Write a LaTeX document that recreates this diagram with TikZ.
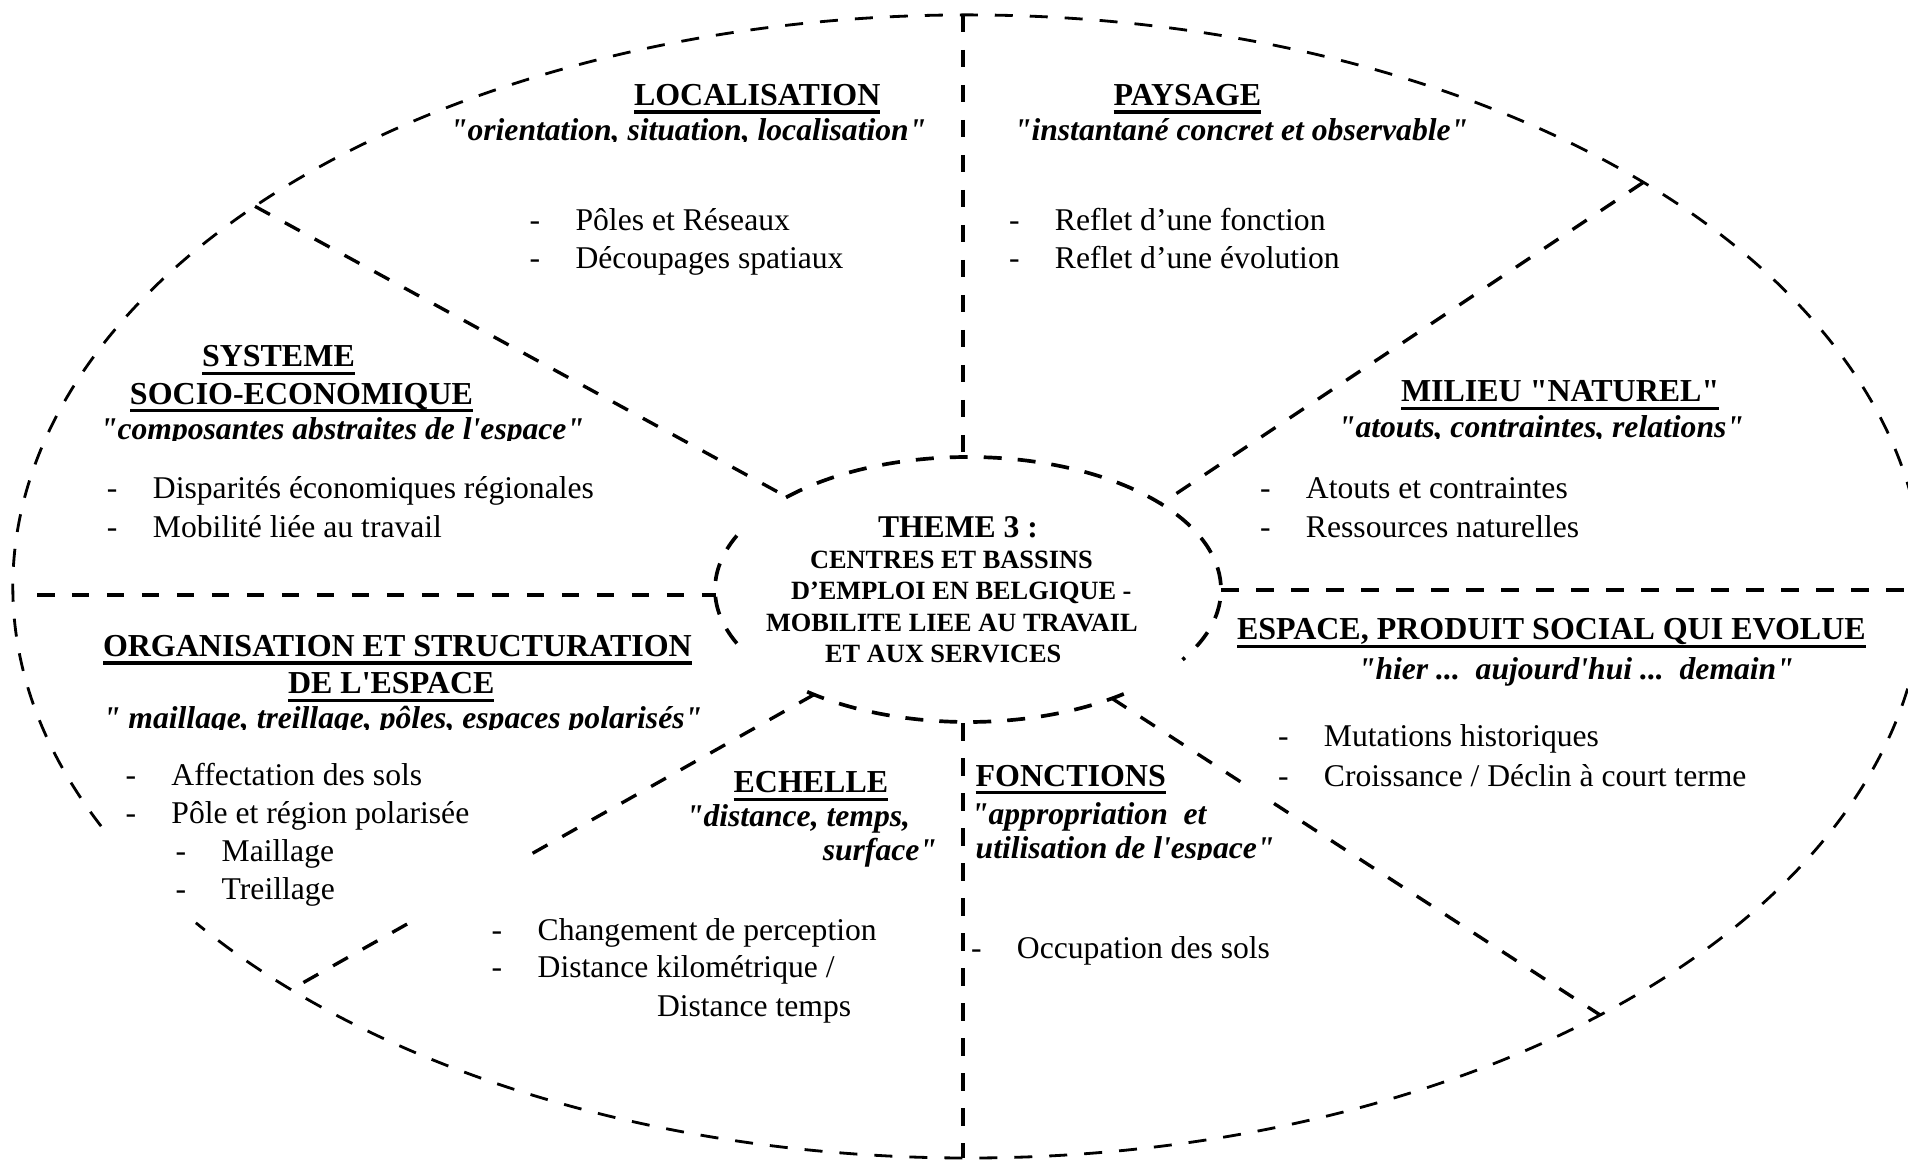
\documentclass[tikz,border=0pt]{standalone}
\usepackage{fontspec}
\newfontfamily\tnr{Liberation Serif}
\usetikzlibrary{calc}

% one unit = 0.1 mm, y axis pointing down
\tikzset{
  x=0.1mm, y=-0.1mm,
  rim/.style={line width=0.8pt, dash pattern=on 1.8mm off 1.7mm},
  hub/.style={line width=1.05pt, dash pattern=on 1.8mm off 1.6mm},
  spoke/.style={line width=1.25pt, dash pattern=on 1.75mm off 1.75mm},
  ray/.style={line width=0.95pt, dash pattern=on 1.7mm off 1.7mm},
  txt/.style={inner sep=0pt, outer sep=0pt, anchor=base west, font=\tnr\fontsize{9}{11}\selectfont},
  head/.style={txt, font=\tnr\bfseries\fontsize{9.1}{11}\selectfont},
  quote/.style={txt, font=\tnr\bfseries\itshape\fontsize{9}{11}\selectfont},
  core/.style={txt, font=\tnr\bfseries\fontsize{7.5}{9}\selectfont},
  coretitle/.style={txt, font=\tnr\bfseries\fontsize{9}{11}\selectfont},
  uline/.style={line width=0.9pt},
}

% underlined bold heading: name, x, baseline y, text
\newcommand\headtext[4]{%
  \node[head] (#1) at (#2,#3) {#4};
  \draw[uline] ([yshift=-0.65mm]#1.base west) -- ([yshift=-0.65mm]#1.base east);}
% list entry with leading dash: name, x of text, baseline y, text
\newcommand\listentry[4]{%
  \node[txt] (#1) at (#2-46,#3) {\makebox[4.6mm][l]{-}#4};}
% italic subtitle cut just below its baseline: name, x, baseline y, text
\newcommand\cutquote[4]{%
  \begin{scope}
    \clip (#2-10,#3-45) rectangle (#2+800,#3+1.2);
    \node[quote] (#1) at (#2,#3) {#4};
  \end{scope}}

\begin{document}
\begin{tikzpicture}
\clip (0,0) rectangle (1908,1165);
\fill[white] (0,0) rectangle (1908,1165);

% ---------- ellipses ----------
\coordinate (O) at (968,586.5);   % outer centre
\coordinate (I) at (968,589.5);   % inner centre

\draw[rim] ($(O)+(155.2:955 and 571.5)$)
  arc[start angle=155.2, end angle=503.95, x radius=955, y radius=571.5];

\draw[hub] ($(I)+(156:253 and 132.5)$)
  arc[start angle=156, end angle=204, x radius=253, y radius=132.5];
\draw[hub] ($(I)+(224:253 and 132.5)$)
  arc[start angle=224, end angle=392, x radius=253, y radius=132.5];
\draw[hub] ($(I)+(52:253 and 132.5)$)
  arc[start angle=52, end angle=131.6, x radius=253, y radius=132.5];

% ---------- spokes ----------
\coordinate (topO) at (963,15);
\coordinate (topI) at (963,457);
\coordinate (botI) at (963,723);
\coordinate (botO) at (963,1158);
\coordinate (leftO) at (37,595);
\coordinate (leftI) at (716,595);
\coordinate (rightI) at (1221,590);
\coordinate (rightO) at (1908,590);

\draw[spoke] (topO) -- (topI);
\draw[spoke] (botI) -- (botO);
\draw[spoke] (leftO) -- (leftI);
\draw[spoke] (rightI) -- (rightO);

\coordinate (ulO) at ($(O)+(221.7:955 and 571.5)$);
\coordinate (ulI) at ($(I)+(224.3:253 and 132.5)$);
\coordinate (urO) at ($(O)+(315:955 and 571.5)$);
\coordinate (urI) at ($(I)+(319.7:253 and 132.5)$);
\coordinate (llO) at ($(O)+(135.15:955 and 571.5)$);
\coordinate (llI) at ($(I)+(127.5:253 and 132.5)$);
\coordinate (lrO) at ($(O)+(48.56:955 and 571.5)$);
\coordinate (lrI) at ($(I)+(55.3:253 and 132.5)$);

\draw[ray] (ulO) -- (ulI);
\draw[ray] (urO) -- (urI);
\draw[ray] (llI) -- ($(llI)!0.562!(llO)$);
\draw[ray] ($(llI)!0.778!(llO)$) -- (llO);
\draw[ray] (lrI) -- ($(lrI)!0.268!(lrO)$);
\draw[ray] ($(lrI)!0.332!(lrO)$) -- (lrO);

% ---------- centre ----------
\node[coretitle] (t0) at (878,537) {THEME 3 :};
\node[core] (t1) at (810,568) {CENTRES ET BASSINS};
\node[core] (t2) at (791,599) {D’EMPLOI EN BELGIQUE -};
\node[core] (t3) at (766,631) {MOBILITE LIEE AU TRAVAIL};
\node[core] (t4) at (825,662) {ET AUX SERVICES};

% ---------- localisation ----------
\headtext{loc}{634}{105.5}{LOCALISATION}
\cutquote{locq}{450}{140}{"orientation, situation, localisation"}
\listentry{loc1}{575.6}{230.4}{Pôles et Réseaux}
\listentry{loc2}{575.6}{268.5}{Découpages spatiaux}

% ---------- paysage ----------
\headtext{pay}{1113.7}{105.5}{PAYSAGE}
\cutquote{payq}{1014}{140}{"instantané concret et observable"}
\listentry{pay1}{1055}{230.4}{Reflet d’une fonction}
\listentry{pay2}{1055}{268.5}{Reflet d’une évolution}

% ---------- systeme socio-economique ----------
\headtext{sys}{202}{366.7}{SYSTEME}
\headtext{sysb}{130}{404.4}{SOCIO-ECONOMIQUE}
\cutquote{sysq}{100}{439}{"composantes abstraites de l'espace"}
\listentry{sys1}{153}{498}{Disparités économiques régionales}
\listentry{sys2}{153}{537}{Mobilité liée au travail}

% ---------- milieu naturel ----------
\headtext{mil}{1401}{401.8}{MILIEU "NATUREL"}
\cutquote{milq}{1338}{437}{"atouts, contraintes, relations"}
\listentry{mil1}{1306}{498}{Atouts et contraintes}
\listentry{mil2}{1306}{537}{Ressources naturelles}

% ---------- espace, produit social ----------
\headtext{esp}{1237}{639.7}{ESPACE, PRODUIT SOCIAL QUI EVOLUE}
\node[quote] (espq) at (1358,679) {"hier ...\ \ aujourd'hui ...\ \ demain"};
\listentry{esp1}{1324}{746}{Mutations historiques}
\listentry{esp2}{1324}{786}{Croissance / Déclin à court terme}

% ---------- organisation ----------
\headtext{org}{103}{656.5}{ORGANISATION ET STRUCTURATION}
\headtext{orgb}{288}{693.8}{DE L'ESPACE}
\cutquote{orgq}{103}{728.5}{" maillage, treillage, pôles, espaces polarisés"}
\listentry{org1}{171.5}{785}{Affectation des sols}
\listentry{org2}{171.5}{823}{Pôle et région polarisée}
\listentry{org3}{221.7}{861}{Maillage}
\listentry{org4}{221.7}{899}{Treillage}

% ---------- echelle ----------
\headtext{ech}{733.6}{792.7}{ECHELLE}
\node[quote] (echq) at (686,826) {"distance, temps,};
\node[quote, anchor=base east] (echr) at (937,860) {surface"};
\listentry{ech1}{537.7}{940}{Changement de perception}
\listentry{ech2}{537.7}{977}{Distance kilométrique /}
\node[txt] (ech3) at (657,1016) {Distance temps};

% ---------- fonctions ----------
\headtext{fon}{975.7}{786.3}{FONCTIONS}
\node[quote] (fonq) at (971,824) {"appropriation\ \ et};
\cutquote{fonr}{975.7}{858}{utilisation de l'espace"}
\listentry{fon1}{1017}{958.7}{Occupation des sols}
\end{tikzpicture}
\end{document}
